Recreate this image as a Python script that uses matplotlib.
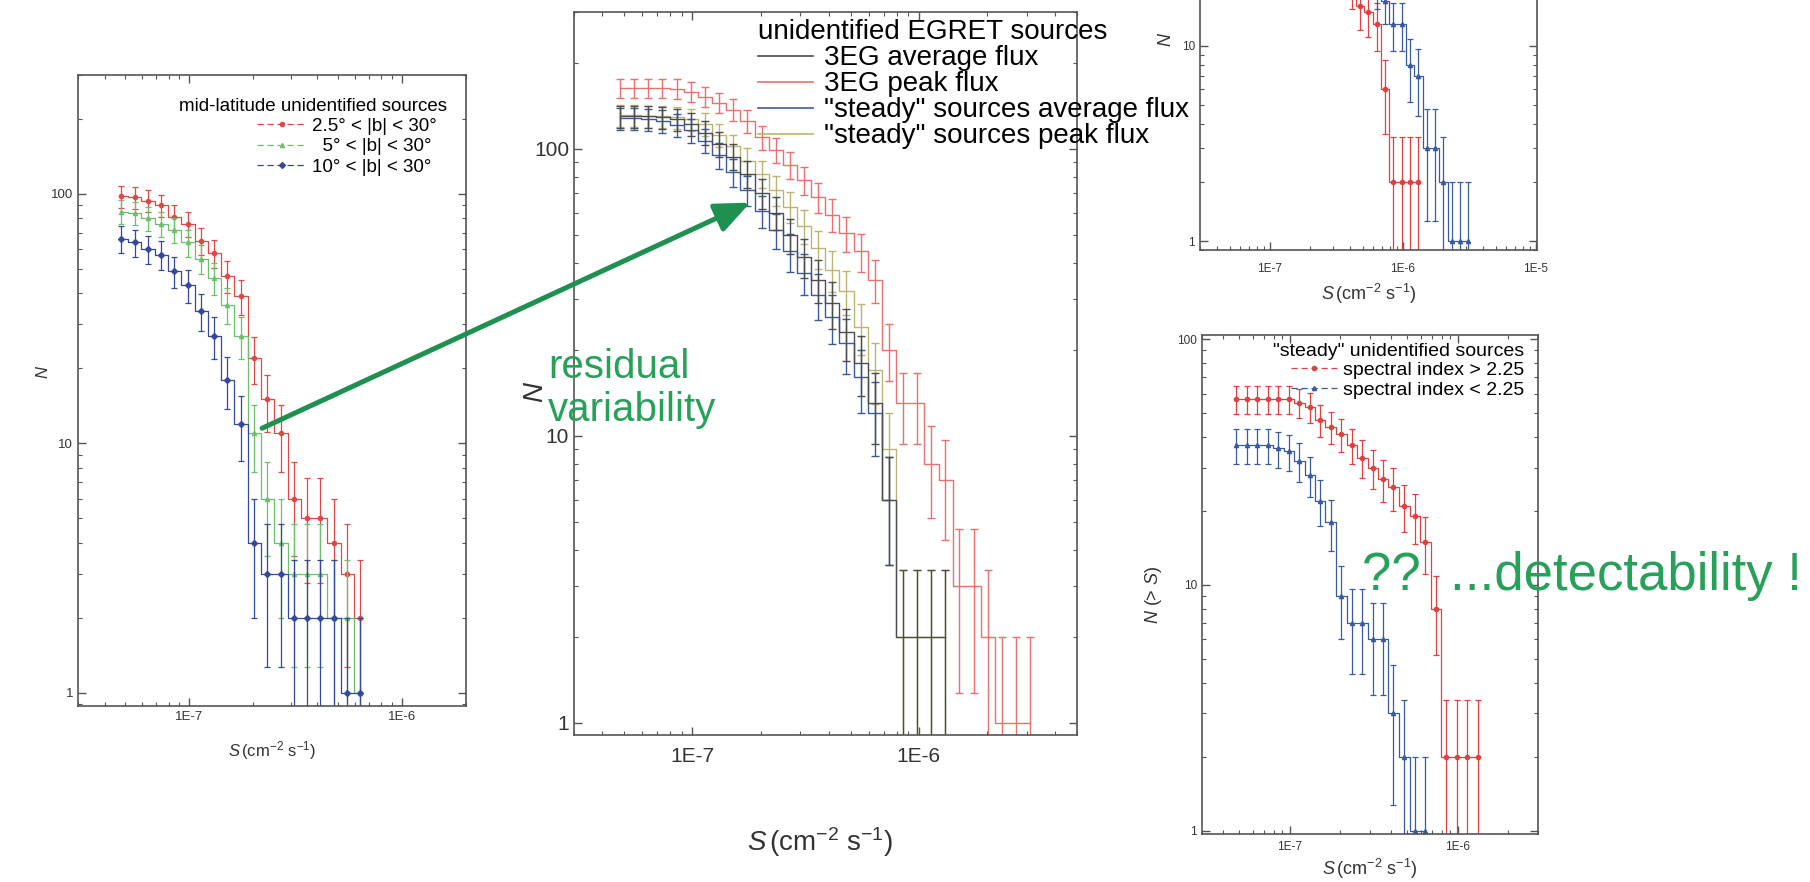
import numpy as np
import matplotlib
matplotlib.use("Agg")
import matplotlib.pyplot as plt
from matplotlib.lines import Line2D
from matplotlib.ticker import LogLocator, FuncFormatter, NullFormatter

plt.rcParams['font.family'] = ['Liberation Sans', 'DejaVu Sans']
plt.rcParams['mathtext.fontset'] = 'custom'
plt.rcParams['mathtext.rm'] = 'Liberation Sans'
plt.rcParams['mathtext.it'] = 'Liberation Sans:italic'

W, H = 1810, 882

# --- flux bins (cm^-2 s^-1), shared by all panels ---
S = [4.79e-8, 5.53e-8, 6.38e-8, 7.37e-8, 8.51e-8, 9.83e-8,
     1.135e-7, 1.31e-7, 1.51e-7, 1.75e-7, 2.02e-7, 2.33e-7, 2.69e-7, 3.11e-7,
     3.59e-7, 4.14e-7, 4.79e-7, 5.53e-7, 6.38e-7, 7.37e-7, 8.51e-7, 9.83e-7,
     1.135e-6, 1.31e-6, 1.51e-6, 1.75e-6, 2.02e-6, 2.33e-6, 2.69e-6, 3.11e-6]

# --- panel 1: mid-latitude unidentified sources, N(>S) ---
mid_labels = ["2.5° < |b| < 30°  ", "  5° < |b| < 30°  ", "10° < |b| < 30°  "]
mid_b25 = [98, 97, 94, 90, 81, 76, 65, 58, 47, 39, 22, 15, 11, 6, 5, 5, 4, 3, 2]
mid_b5 = [85, 84, 80, 76, 72, 64, 55, 46, 36, 27, 11, 6, 4, 3, 3, 3, 2, 2, 1]
mid_b10 = [66, 64, 60, 57, 49, 43, 34, 27, 18, 12, 4, 3, 3, 2, 2, 2, 2, 1, 1]

# --- panel 2: unidentified EGRET sources ---
egret_labels = ["3EG average flux", "3EG peak flux",
                "\"steady\" sources average flux", "\"steady\" sources peak flux"]
egret_avg = [130, 130, 130, 129, 127, 122, 114, 104, 94, 82, 70, 60, 50, 42,
             35, 29, 23, 18, 13, 6, 2, 2, 2, 2]
egret_peak = [163, 163, 163, 163, 162, 158, 152, 145, 137, 125, 110, 99, 88, 78,
              68, 59, 51, 44, 35, 20, 13, 13, 8, 7, 3, 3, 2, 1, 1, 1]
steady_avg = [128, 128, 127, 125, 121, 116, 107, 95, 83, 72, 61, 52, 44, 37,
              31, 26, 21, 16, 12, 6]
steady_peak = [131, 131, 130, 130, 129, 127, 122, 112, 102, 91, 82, 72, 63, 54,
               45, 38, 32, 24, 17, 9, 2, 2, 2, 2]

# --- panel 3 (top right, mostly cut off) ---
top_red = [20, 16, 15, 13, 6, 2, 2, 2, 2]                  # bins 15..23
top_blue = [20, 17, 13, 13, 8, 7, 3, 3, 2, 1, 1, 1]        # bins 18..29

# --- panel 4: "steady" unidentified sources by spectral index ---
idx_labels = ["spectral index > 2.25", "spectral index < 2.25"]
idx_soft = [57, 57, 57, 57, 57, 57, 55, 53, 47, 44, 41, 37, 33, 30, 27, 25,
            21, 19, 15, 8, 2, 2, 2, 2]
idx_hard = [37, 37, 37, 37, 36, 35, 32, 28, 22, 18, 9, 7, 7, 6, 6, 3, 2, 1, 1]

GREEN = '#27a05a'


def px_box(left, top, right, bottom):
    return [left / W, 1 - bottom / H, (right - left) / W, (bottom - top) / H]


def setup(ax, xlim, ylim, fs, xpad=3.5):
    ax.set_xscale('log')
    ax.set_yscale('log')
    ax.set_xlim(xlim)
    ax.set_ylim(ylim)
    ax.xaxis.set_major_locator(LogLocator(base=10, numticks=20))
    ax.xaxis.set_minor_locator(LogLocator(base=10, subs=np.arange(2, 10), numticks=50))
    ax.yaxis.set_major_locator(LogLocator(base=10, numticks=20))
    ax.yaxis.set_minor_locator(LogLocator(base=10, subs=np.arange(2, 10), numticks=50))
    ax.xaxis.set_major_formatter(FuncFormatter(lambda v, p: f"1E{int(round(np.log10(v)))}"))
    ax.xaxis.set_minor_formatter(NullFormatter())
    ax.yaxis.set_major_formatter(FuncFormatter(lambda v, p: f"{v:g}"))
    ax.yaxis.set_minor_formatter(NullFormatter())
    ax.tick_params(which='both', direction='in', top=True, right=True,
                   labelsize=fs, labelcolor='#333', color='#555')
    ax.tick_params(axis='x', which='both', pad=xpad)
    ax.tick_params(which='major', length=6, width=1)
    ax.tick_params(which='minor', length=3, width=0.8)
    for sp in ax.spines.values():
        sp.set_color('#555')
        sp.set_linewidth(1.2)


def counts(ax, x, n, color, marker=None, lw=0.9, cap=2.5):
    n = np.asarray(n, dtype=float)
    err = np.sqrt(n)  # Poisson errors
    ax.plot(x, n, drawstyle='steps-mid', color=color, lw=lw)
    ax.errorbar(x, n, yerr=err, fmt='none', ecolor=color, elinewidth=lw,
                capsize=cap, capthick=lw)
    if marker:
        ax.plot(x, n, ls='none', marker=marker, ms=3, color=color)


fig = plt.figure(figsize=(W / 100, H / 100), dpi=100)
xlab = r'$S\,$(cm$^{-2}$ s$^{-1}$)'

# ---------------- panel 1 ----------------
ax1 = fig.add_axes(px_box(78, 75, 466, 706))
setup(ax1, (3e-8, 2e-6), (0.885, 300), 9.5)
c1 = ['#e04848', '#6cc06c', '#34489c']
m1 = ['o', '^', 'D']
for n, c, m in zip([mid_b25, mid_b5, mid_b10], c1, m1):
    counts(ax1, S[:len(n)], n, c, marker=m)
ax1.set_xlabel(xlab, fontsize=12, color='#333', labelpad=12)
ax1.set_ylabel('$N$', fontsize=12, color='#333')
ax1.yaxis.set_label_coords(-0.07, 0.53)
h1 = [Line2D([], [], color=c, ls=(0, (5, 3)), lw=0.9, marker=m, ms=3) for c, m in zip(c1, m1)]
ax1.legend(h1, mid_labels, title='mid-latitude unidentified sources', loc='upper right',
           bbox_to_anchor=(0.985, 0.985), frameon=False, fontsize=13.5, title_fontsize=13.5,
           handlelength=2.6, handletextpad=0.3, labelspacing=0.17, borderpad=0.2,
           alignment='right')

# ---------------- panel 2 ----------------
ax2 = fig.add_axes(px_box(574, 12, 1077, 735))
setup(ax2, (3e-8, 5e-6), (0.908, 300), 15, xpad=9)
c2 = ['#4d4d4d', '#e8706e', '#3c5a9a', '#bdb473']
counts(ax2, S[:len(egret_peak)], egret_peak, c2[1], lw=1.0, cap=3)
counts(ax2, S[:len(steady_peak)], steady_peak, c2[3], lw=1.0, cap=3)
counts(ax2, S[:len(steady_avg)], steady_avg, c2[2], lw=1.0, cap=3)
counts(ax2, S[:len(egret_avg)], egret_avg, c2[0], lw=1.0, cap=3)
ax2.set_xlabel(xlab, fontsize=20, color='#333')
ax2.xaxis.set_label_coords(0.49, -0.125)
ax2.set_ylabel('$N$', fontsize=20, color='#333')
ax2.yaxis.set_label_coords(-0.05, 0.474)
h2 = [Line2D([], [], color=c, lw=1.2) for c in c2]
ax2.legend(h2, egret_labels, title='unidentified EGRET sources', loc='upper left',
           bbox_to_anchor=(0.332, 1.013), frameon=False, fontsize=20, title_fontsize=20,
           handlelength=2.0, handletextpad=0.4, labelspacing=0.0, borderpad=0.1,
           alignment='left')

# ---------------- panel 3 (runs off the top) ----------------
ax3 = fig.add_axes(px_box(1200, -106, 1537, 250))
setup(ax3, (3e-8, 1.02e-5), (0.9, 60), 8.5, xpad=9)
counts(ax3, S[15:15 + len(top_red)], top_red, '#e04040', marker='o', lw=0.9, cap=2)
counts(ax3, S[18:18 + len(top_blue)], top_blue, '#3a5aa0', marker='^', lw=0.9, cap=2)
ax3.set_xlabel(xlab, fontsize=13, color='#333', labelpad=5)
ax3.set_ylabel('$N$', fontsize=13, color='#333')
ax3.yaxis.set_label_coords(-0.074, 0.59)

# ---------------- panel 4 ----------------
ax4 = fig.add_axes(px_box(1202, 335, 1538, 834))
setup(ax4, (3e-8, 3e-6), (0.97, 104), 8.5, xpad=5)
c4 = ['#e04040', '#3a5aa0']
counts(ax4, S[:len(idx_soft)], idx_soft, c4[0], marker='o', lw=0.9, cap=2.5)
counts(ax4, S[:len(idx_hard)], idx_hard, c4[1], marker='^', lw=0.9, cap=2.5)
ax4.set_xlabel(xlab, fontsize=13, color='#333', labelpad=3)
ax4.set_ylabel('$N$ (> $S$)', fontsize=13, color='#333')
ax4.yaxis.set_label_coords(-0.113, 0.479)
h4 = [Line2D([], [], color=c, ls=(0, (5, 3)), lw=0.9, marker=m, ms=3) for c, m in zip(c4, ['o', '^'])]
ax4.legend(h4, idx_labels, title='"steady" unidentified sources', loc='upper right',
           bbox_to_anchor=(1.0, 1.012), frameon=False, fontsize=14, title_fontsize=14,
           handlelength=2.4, handletextpad=0.3, labelspacing=0.1, borderpad=0.2,
           alignment='right')

# ---------------- annotations ----------------
ax2.annotate('', xy=(1.8e-7, 65), xycoords=ax2.transData,
             xytext=(2.2e-7, 11.5), textcoords=ax1.transData,
             arrowprops=dict(arrowstyle='-|>,head_length=1.4,head_width=0.6',
                             color='#1e9050', lw=3.6, mutation_scale=15,
                             shrinkA=0, shrinkB=0),
             annotation_clip=False, zorder=10)
fig.text(548 / W, 1 - 367 / H, 'residual', fontsize=29, color=GREEN, ha='left', va='center')
fig.text(548 / W, 1 - 410 / H, 'variability', fontsize=29, color=GREEN, ha='left', va='center')
fig.text(1362 / W, 1 - 576 / H, '??  ...detectability !', fontsize=38, color=GREEN,
         ha='left', va='center')

fig.savefig('out.png', dpi=100, facecolor='white')
